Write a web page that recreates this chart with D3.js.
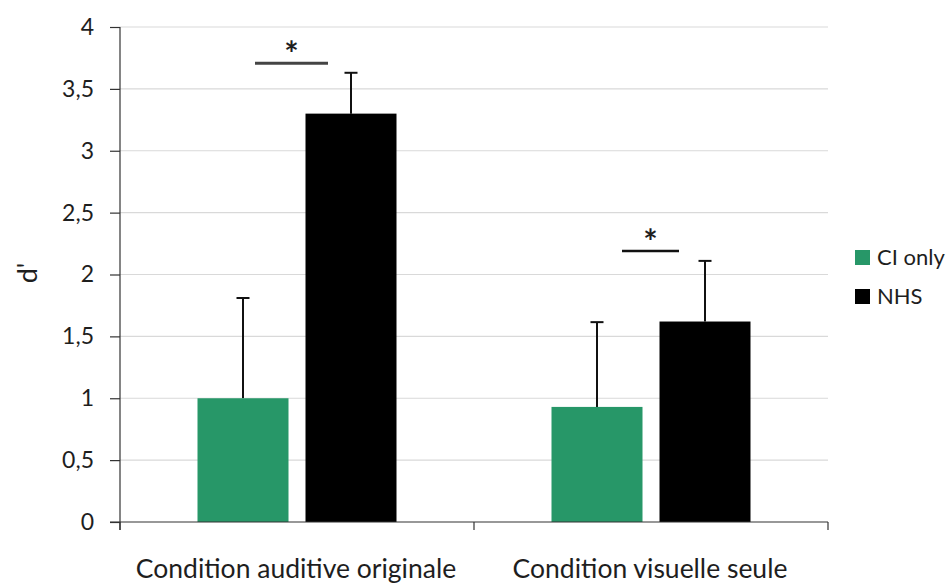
<!DOCTYPE html>
<html>
<head>
<meta charset="utf-8">
<script src="https://cdn.jsdelivr.net/npm/d3@7"></script>
<style>
  html, body { margin: 0; padding: 0; background: #fff; }
  svg { display: block; }
  text { font-family: Lato, "Open Sans", sans-serif; fill: #1e1e1e; }
</style>
</head>
<body>
<svg id="chart" width="946" height="583"></svg>
<script>
const categories = ["Condition auditive originale", "Condition visuelle seule"];
const seriesNames = ["CI only", "NHS"];
const ciOnlyValues = [1.0, 0.93];
const nhsValues = [3.3, 1.62];
const ciOnlyErrorTop = [1.81, 1.615];
const nhsErrorTop = [3.63, 2.11];
const yTicks = [0, 0.5, 1, 1.5, 2, 2.5, 3, 3.5, 4];
const yTickLabels = ["0", "0,5", "1", "1,5", "2", "2,5", "3", "3,5", "4"];
const significance = [
  { category: "Condition auditive originale", level: 3.707, from: -0.42, to: 0.31 },
  { category: "Condition visuelle seule", level: 2.19, from: -0.29, to: 0.28 }
];
const colors = ["#279768", "#000000"];

(function () {
const svg = d3.select("#chart");
const mLeft = 120, mRight = 828, mTop = 27, mBottom = 522;

const x0 = d3.scaleBand().domain(categories).range([mLeft, mRight]).paddingInner(0).paddingOuter(0);
const bw = x0.bandwidth();
const step = 108;
const x1 = d3.scaleBand().domain(seriesNames)
  .range([0, bw]).paddingInner(17 / step).paddingOuter(((bw - 2 * 91 - 17) / 2) / step);
const y = d3.scaleLinear().domain([0, 4]).range([mBottom, mTop]);

// gridlines
svg.append("g").selectAll("line").data(yTicks.slice(1)).join("line")
  .attr("x1", mLeft).attr("x2", mRight)
  .attr("y1", d => y(d)).attr("y2", d => y(d))
  .attr("stroke", "#d9d9d9").attr("stroke-width", 1.2);

// y axis
const yAxis = d3.axisLeft(y).tickValues(yTicks)
  .tickFormat((d, i) => yTickLabels[i]).tickSize(10).tickPadding(16);
const gy = svg.append("g").attr("transform", `translate(${mLeft},0)`).call(yAxis);
gy.select(".domain").remove();
gy.selectAll(".tick line").attr("stroke", "#333").attr("stroke-width", 1.2);
gy.selectAll(".tick text").style("font-size", "23px").attr("fill", "#1e1e1e")
  .style("font-family", "Lato, 'Open Sans', sans-serif");
svg.append("line").attr("x1", mLeft).attr("x2", mLeft).attr("y1", mTop).attr("y2", mBottom + 8)
  .attr("stroke", "#333").attr("stroke-width", 1.2);

// bars
const data = categories.map((c, i) => ({
  cat: c,
  vals: [
    { s: seriesNames[0], v: ciOnlyValues[i], e: ciOnlyErrorTop[i], c: colors[0] },
    { s: seriesNames[1], v: nhsValues[i], e: nhsErrorTop[i], c: colors[1] }
  ]
}));

const groups = svg.append("g").selectAll("g").data(data).join("g")
  .attr("transform", d => `translate(${x0(d.cat)},0)`);

groups.selectAll("line.err").data(d => d.vals).join("line").attr("class", "err")
  .attr("x1", d => x1(d.s) + x1.bandwidth() / 2).attr("x2", d => x1(d.s) + x1.bandwidth() / 2)
  .attr("y1", d => y(d.v)).attr("y2", d => y(d.e))
  .attr("stroke", "#111").attr("stroke-width", 2);
groups.selectAll("line.cap").data(d => d.vals).join("line").attr("class", "cap")
  .attr("x1", d => x1(d.s) + x1.bandwidth() / 2 - 6.5).attr("x2", d => x1(d.s) + x1.bandwidth() / 2 + 6.5)
  .attr("y1", d => y(d.e)).attr("y2", d => y(d.e))
  .attr("stroke", "#111").attr("stroke-width", 2);

groups.selectAll("rect").data(d => d.vals).join("rect")
  .attr("x", d => x1(d.s)).attr("width", x1.bandwidth())
  .attr("y", d => y(d.v)).attr("height", d => y(0) - y(d.v))
  .attr("fill", d => d.c);

// x axis
svg.append("line").attr("x1", mLeft - 10).attr("x2", mRight).attr("y1", mBottom).attr("y2", mBottom)
  .attr("stroke", "#333").attr("stroke-width", 1.2);
const xTickPos = [mLeft, mLeft + bw, mRight];
svg.append("g").selectAll("line").data(xTickPos).join("line")
  .attr("x1", d => d).attr("x2", d => d).attr("y1", mBottom).attr("y2", mBottom + 8)
  .attr("stroke", "#333").attr("stroke-width", 1.2);
svg.append("g").selectAll("text").data(categories).join("text")
  .attr("x", d => x0(d) + bw / 2 - 1).attr("y", 578)
  .attr("text-anchor", "middle").style("font-size", "26.5px").text(d => d);

// y label
svg.append("text").attr("transform", "translate(37,273) rotate(-90)")
  .attr("text-anchor", "middle").style("font-size", "27px").text("d'");

// significance
significance.forEach((s, i) => {
  const cx = x0(s.category) + bw / 2;
  const xa = cx + s.from * 100, xb = cx + s.to * 100;
  svg.append("line").attr("x1", xa).attr("x2", xb)
    .attr("y1", y(s.level)).attr("y2", y(s.level))
    .attr("stroke", i === 0 ? "#444" : "#111").attr("stroke-width", i === 0 ? 3 : 2.5);
  svg.append("text").attr("x", (xa + xb) / 2).attr("y", y(s.level) + 3)
    .attr("text-anchor", "middle").style("font-size", "34px").style("font-weight", "bold")
    .attr("fill", "#111").text("*");
});

// legend
const leg = svg.append("g").attr("transform", "translate(855,250)");
seriesNames.forEach((n, i) => {
  leg.append("rect").attr("x", 0).attr("y", i * 39).attr("width", 15).attr("height", 15).attr("fill", colors[i]);
  leg.append("text").attr("x", 22).attr("y", i * 39 + 15).style("font-size", "22px").text(n);
});
})();
</script>
</body>
</html>
